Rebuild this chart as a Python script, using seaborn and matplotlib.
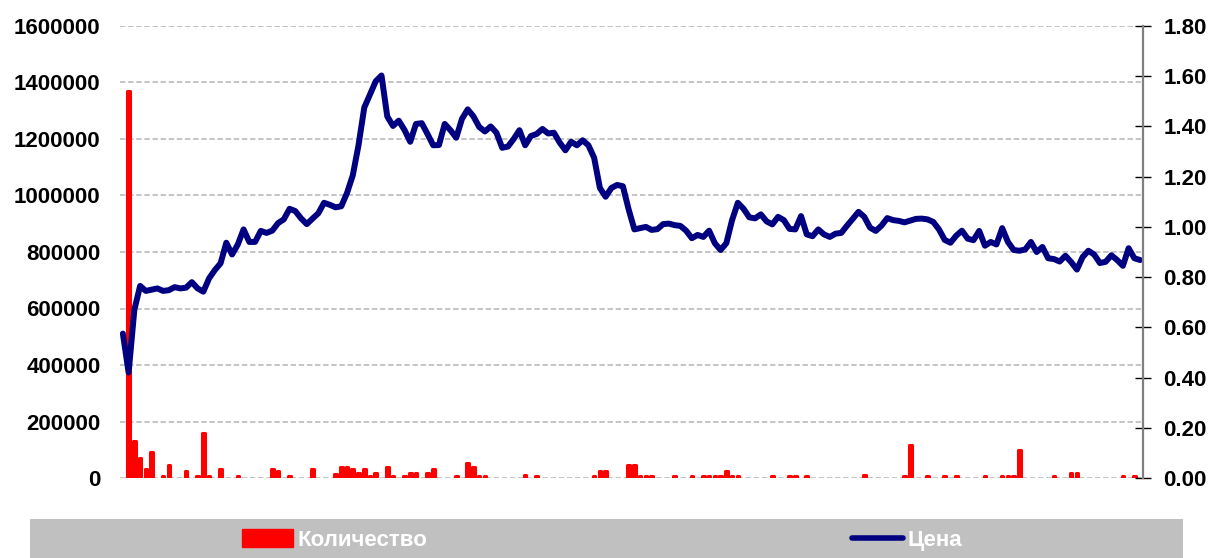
import numpy as np
import matplotlib
matplotlib.use("Agg")
import matplotlib.pyplot as plt
import seaborn as sns
from matplotlib.patches import Patch, Rectangle
from matplotlib.lines import Line2D
from matplotlib.ticker import FormatStrFormatter

# --- data ---
volume = [
    0, 1370000, 131000, 72000, 33000, 92000, 0, 8000, 45000, 0,
    0, 24000, 0, 8000, 159000, 8000, 0, 31000, 0, 0,
    8000, 0, 0, 0, 0, 0, 31000, 26000, 0, 8000,
    0, 0, 0, 31000, 0, 0, 0, 15000, 38000, 38000,
    31000, 18000, 31000, 8000, 18000, 0, 38000, 8000, 0, 8000,
    18000, 18000, 0, 18000, 31000, 0, 0, 0, 8000, 0,
    52000, 38000, 8000, 8000, 0, 0, 0, 0, 0, 0,
    10000, 0, 8000, 0, 0, 0, 0, 0, 0, 0,
    0, 0, 8000, 24000, 24000, 0, 0, 0, 45000, 45000,
    8000, 8000, 8000, 0, 0, 0, 8000, 0, 0, 8000,
    0, 8000, 8000, 8000, 8000, 24000, 8000, 8000, 0, 0,
    0, 0, 0, 8000, 0, 0, 8000, 8000, 0, 8000,
    0, 0, 0, 0, 0, 0, 0, 0, 0, 12000,
    0, 0, 0, 0, 0, 0, 8000, 118000, 0, 0,
    8000, 0, 0, 8000, 0, 8000, 0, 0, 0, 0,
    8000, 0, 0, 8000, 8000, 8000, 99000, 0, 0, 0,
    0, 0, 8000, 0, 0, 18000, 18000, 0, 0, 0,
    0, 0, 0, 0, 8000, 0, 8000, 0,
]

price = [
    0.575, 0.42, 0.67, 0.765, 0.745, 0.75, 0.755, 0.745, 0.748, 0.76,
    0.755, 0.758, 0.78, 0.755, 0.742, 0.795, 0.828, 0.855, 0.937, 0.89,
    0.93, 0.99, 0.94, 0.94, 0.984, 0.976, 0.985, 1.015, 1.03, 1.072,
    1.063, 1.034, 1.011, 1.033, 1.054, 1.096, 1.088, 1.078, 1.082, 1.135,
    1.205, 1.325, 1.475, 1.528, 1.58, 1.603, 1.44, 1.402, 1.423, 1.386,
    1.339, 1.41, 1.413, 1.37, 1.325, 1.326, 1.41, 1.385, 1.355, 1.43,
    1.468, 1.44, 1.398, 1.38, 1.40, 1.375, 1.315, 1.32, 1.35, 1.385,
    1.325, 1.362, 1.37, 1.39, 1.372, 1.375, 1.336, 1.305, 1.339, 1.325,
    1.345, 1.325, 1.275, 1.155, 1.12, 1.155, 1.167, 1.162, 1.07, 0.99,
    0.995, 1.0, 0.988, 0.991, 1.011, 1.013, 1.007, 1.004, 0.985, 0.955,
    0.968, 0.96, 0.985, 0.935, 0.908, 0.935, 1.027, 1.096, 1.072, 1.038,
    1.034, 1.05, 1.022, 1.01, 1.04, 1.027, 0.992, 0.99, 1.043, 0.97,
    0.963, 0.99, 0.97, 0.96, 0.973, 0.976, 1.005, 1.032, 1.06, 1.04,
    0.997, 0.984, 1.005, 1.035, 1.027, 1.024, 1.018, 1.025, 1.032, 1.033,
    1.03, 1.02, 0.99, 0.948, 0.937, 0.965, 0.985, 0.953, 0.947, 0.984,
    0.925, 0.94, 0.93, 0.995, 0.94, 0.908, 0.905, 0.91, 0.94, 0.9,
    0.92, 0.875, 0.872, 0.862, 0.885, 0.86, 0.83, 0.88, 0.905, 0.89,
    0.856, 0.861, 0.887, 0.868, 0.845, 0.915, 0.875, 0.868,
]

days = np.arange(len(volume))

vol_ticks = [0, 200000, 400000, 600000, 800000, 1000000, 1200000, 1400000, 1600000]
price_ticks = [0.0, 0.2, 0.4, 0.6, 0.8, 1.0, 1.2, 1.4, 1.6, 1.8]

vol_label = "Количество"
price_label = "Цена"

# --- style ---
sns.set_style("white")
plt.rcParams["font.family"] = ["Liberation Sans", "DejaVu Sans"]

W, H = 1212, 558
fig = plt.figure(figsize=(W / 100, H / 100), dpi=100)
ax = fig.add_axes([120 / W, 1 - 478 / H, (1143 - 120) / W, (478 - 26) / H])

# thin bars + thick round edge -> small values show as rounded dots
sns.barplot(x=days, y=volume, color="#ff0000", saturation=1, width=0.45,
            linewidth=2.2, edgecolor="#ff0000", native_scale=True, ax=ax)
for p in ax.patches:
    p.set_joinstyle("round")
    if p.get_height() == 0:
        p.set_visible(False)

ax2 = ax.twinx()
sns.lineplot(x=days, y=price, color="#000080", linewidth=4.3, ax=ax2)
for ln in ax2.lines:
    ln.set_solid_capstyle("round")
    ln.set_solid_joinstyle("round")

n = len(days)
ax.set_xlim(-0.5, n - 0.5)
ax.set_ylim(0, 1600000)
ax2.set_ylim(0, 1.8)

ax.set_xticks([])
ax.set_yticks(vol_ticks)
ax.set_yticklabels([str(v) for v in vol_ticks])
ax2.set_yticks(price_ticks)
ax2.yaxis.set_major_formatter(FormatStrFormatter("%.2f"))
ax.set_xlabel("")
ax.set_ylabel("")
ax2.set_xlabel("")
ax2.set_ylabel("")

ax.grid(axis="y", color="#c0c0c0", linestyle=(0, (3, 1.5)), linewidth=1.3)
ax.set_axisbelow(True)

for s in ax.spines.values():
    s.set_visible(False)
for k, s in ax2.spines.items():
    s.set_visible(k == "right")
ax2.spines["right"].set_color("#808080")
ax2.spines["right"].set_linewidth(1.6)

ax.tick_params(axis="y", length=0, pad=14, labelsize=16, labelcolor="black")
ax2.tick_params(axis="y", direction="inout", length=11, width=1, color="black",
                pad=9, labelsize=16, labelcolor="black")
for t in ax.get_yticklabels() + ax2.get_yticklabels():
    t.set_fontweight("bold")

# --- legend band at the bottom ---
fig.patches.append(Rectangle((30 / W, 0), (1183 - 30) / W, (558 - 519) / H,
                             transform=fig.transFigure, facecolor="#c0c0c0",
                             edgecolor="none", zorder=0))
handles = [Patch(facecolor="#ff0000", edgecolor="#ff0000", label=vol_label),
           Line2D([0], [0], color="#000080", linewidth=4, solid_capstyle="round",
                  label=price_label)]
leg = fig.legend(handles=handles, loc="center left", ncol=2,
                 bbox_to_anchor=(242 / W, 1 - 540 / H), frameon=False,
                 borderpad=0, borderaxespad=0, handlelength=2.3,
                 handleheight=0.85, handletextpad=0.2, columnspacing=19.1,
                 prop={"size": 16, "weight": "bold"})
for t in leg.get_texts():
    t.set_color("white")

fig.savefig("out.png", dpi=100)
